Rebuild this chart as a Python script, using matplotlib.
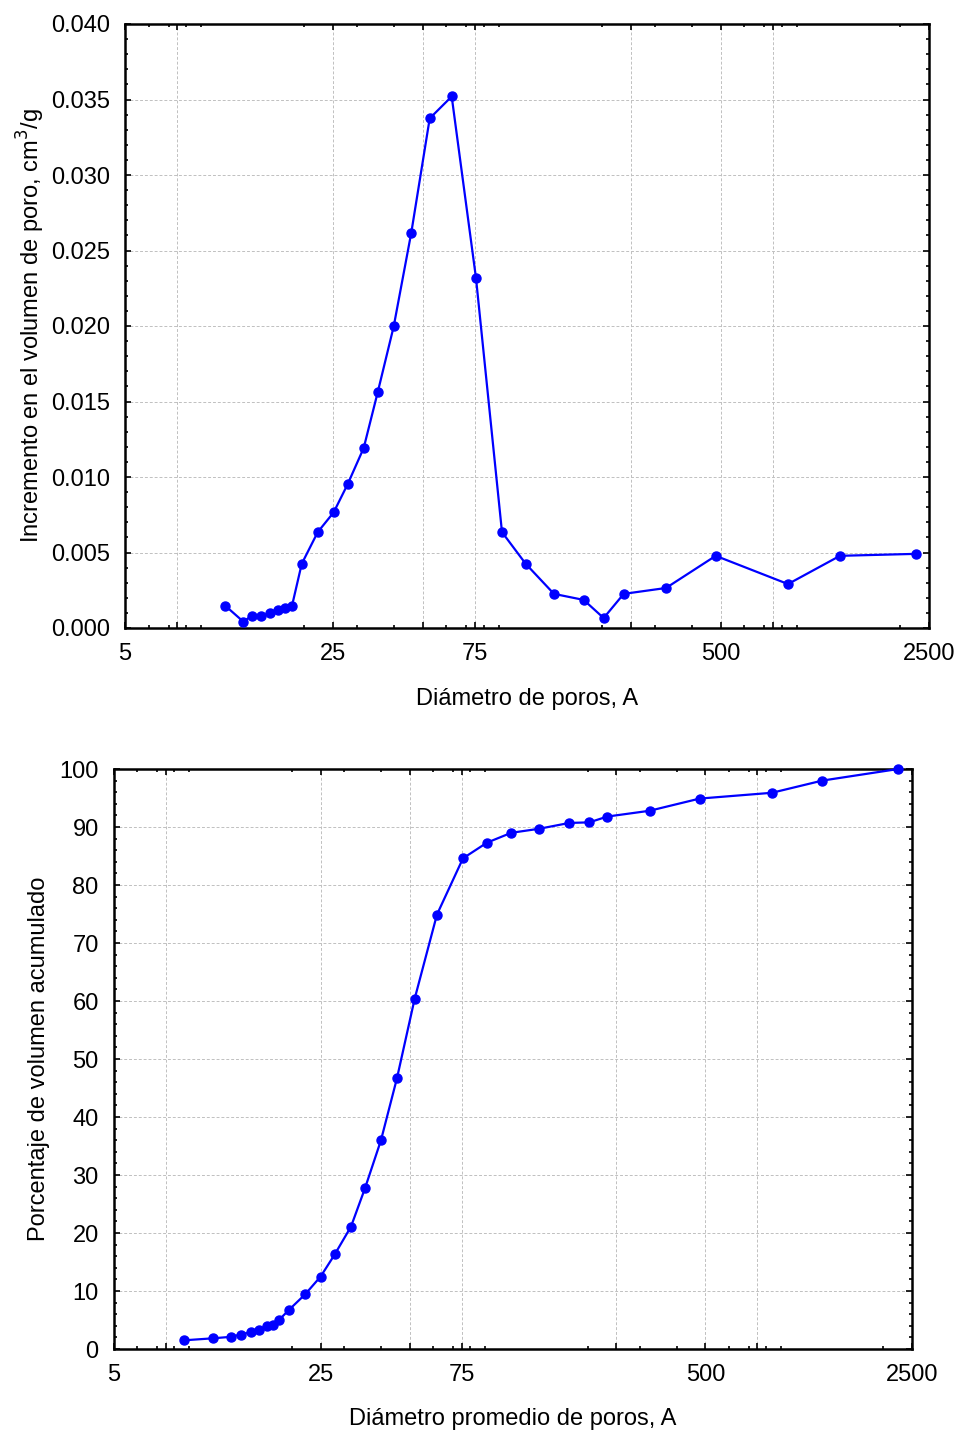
import numpy as np
import matplotlib
matplotlib.use("Agg")
import matplotlib.pyplot as plt
from matplotlib.ticker import FixedLocator, FixedFormatter, LogLocator, MultipleLocator, NullFormatter

plt.rcParams['font.family'] = ['Liberation Sans', 'DejaVu Sans']

# incremental pore volume vs pore diameter
diam_inc = [10.86, 12.48, 13.32, 14.34, 15.30, 16.28, 17.27, 18.18, 19.60, 22.18,
            25.09, 27.96, 31.64, 35.27, 39.90, 45.72, 52.71, 62.47, 75.37, 92.15,
            110.7, 137.7, 173.3, 202.2, 236.1, 327.4, 480.8, 840.7, 1256, 2261]
vol_inc = [0.00147, 0.00042, 0.00081, 0.00081, 0.00097, 0.00121, 0.00131, 0.00147, 0.00425, 0.00635,
           0.00766, 0.00953, 0.01192, 0.01562, 0.01997, 0.02619, 0.03375, 0.03520, 0.02318, 0.00635,
           0.00425, 0.00226, 0.00186, 0.00066, 0.00226, 0.00265, 0.00478, 0.00291, 0.00478, 0.00491]

# cumulative volume percentage vs mean pore diameter
diam_cum = [8.64, 10.79, 12.44, 13.41, 14.50, 15.43, 16.42, 17.20, 18.07, 19.49,
            22.13, 25.00, 27.89, 31.66, 35.30, 39.99, 45.30, 51.99, 61.84, 75.74,
            91.29, 110.3, 137.2, 173.3, 202.5, 233.0, 324.0, 478.4, 840, 1243, 2246]
pct_cum = [1.5, 1.84, 2.1, 2.5, 2.9, 3.3, 3.95, 4.2, 5.0, 6.7,
           9.4, 12.5, 16.3, 21.1, 27.7, 36.0, 46.7, 60.4, 74.9, 84.6,
           87.3, 89.0, 89.7, 90.7, 90.8, 91.8, 92.8, 94.9, 95.9, 98.0, 100.0]

x_major = [5, 7.5, 25, 50, 75, 250, 500, 750, 2500]
x_labels = ['5', '', '25', '', '75', '', '500', '', '2500']

blue = '#0000ff'
fs = 17

fig = plt.figure(figsize=(9.62, 14.32), dpi=100)
ax1 = fig.add_axes([125/962, 1-628/1432, 804/962, 604/1432])
ax2 = fig.add_axes([114/962, 1-1349/1432, 798/962, 580/1432])


def style_axes(ax, ymin, ymax, ystep, yminor):
    ax.set_xscale('log')
    ax.set_xlim(5, 2500)
    ax.set_ylim(ymin, ymax)
    ax.xaxis.set_major_locator(FixedLocator(x_major))
    ax.xaxis.set_major_formatter(FixedFormatter(x_labels))
    ax.xaxis.set_minor_locator(LogLocator(base=10, subs=np.arange(2, 10)))
    ax.xaxis.set_minor_formatter(NullFormatter())
    ax.yaxis.set_major_locator(MultipleLocator(ystep))
    ax.yaxis.set_minor_locator(MultipleLocator(yminor))
    ax.tick_params(which='both', direction='in', top=True, right=True,
                   labelsize=fs, width=1.2, colors='black')
    ax.tick_params(which='major', length=4, pad=11)
    ax.tick_params(which='minor', length=2.5)
    ax.grid(True, which='major', color='#c0c0c0', linestyle='--', linewidth=0.7, dashes=(3, 2))
    ax.set_axisbelow(True)
    for s in ax.spines.values():
        s.set_linewidth(1.8)


ax1.plot(diam_inc, vol_inc, color=blue, lw=1.6, marker='o', ms=6.5, clip_on=False, zorder=3)
style_axes(ax1, 0, 0.04, 0.005, 0.001)
ax1.yaxis.set_major_formatter(matplotlib.ticker.FormatStrFormatter('%.3f'))
ax1.set_xlabel('Diámetro de poros, A', fontsize=fs, labelpad=16)
ax1.set_ylabel('Incremento en el volumen de poro, cm$^3$/g', fontsize=fs, labelpad=3)

ax2.plot(diam_cum, pct_cum, color=blue, lw=1.6, marker='o', ms=6.5, clip_on=False, zorder=3)
style_axes(ax2, 0, 100, 10, 2)
ax2.set_xlabel('Diámetro promedio de poros, A', fontsize=fs, labelpad=16)
ax2.set_ylabel('Porcentaje de volumen acumulado', fontsize=fs, labelpad=7)

fig.savefig('out.png', dpi=100)
